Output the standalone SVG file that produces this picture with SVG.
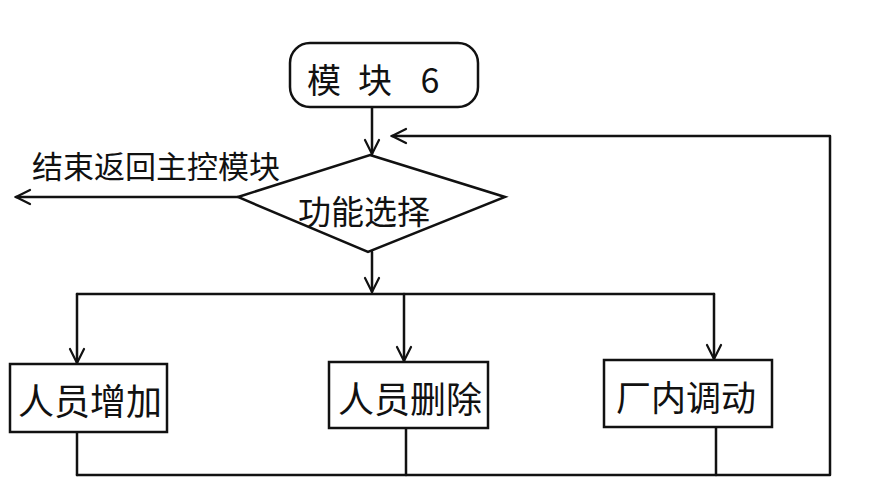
<svg xmlns="http://www.w3.org/2000/svg" width="880" height="480" viewBox="0 0 880 480">
<defs>
<style>
.s{fill:none;stroke:#111;stroke-width:2.5;stroke-linejoin:round;stroke-linecap:round}
.b{fill:#fff;stroke:#111;stroke-width:2.5}
.t{font-family:"Noto Sans CJK SC","Liberation Sans",sans-serif;fill:#111;text-anchor:middle;dominant-baseline:central}
</style>
<marker id="a" viewBox="0 0 20 20" refX="18" refY="10" markerWidth="20" markerHeight="20" markerUnits="userSpaceOnUse" orient="auto">
<polyline points="4,3 18,10 4,17" fill="none" stroke="#111" stroke-width="2.2" stroke-linecap="round"/>
</marker>
</defs>
<rect width="880" height="480" fill="#fff"/>
<g id="connectors">
<line class="s" x1="372" y1="107" x2="372" y2="154" marker-end="url(#a)"/>
<line class="s" x1="238" y1="197" x2="16" y2="197" marker-end="url(#a)"/>
<line class="s" x1="372" y1="252" x2="372" y2="292" marker-end="url(#a)"/>
<polyline class="s" points="77,294 714,294"/>
<line class="s" x1="77" y1="294" x2="77" y2="363" marker-end="url(#a)"/>
<line class="s" x1="404" y1="294" x2="404" y2="361" marker-end="url(#a)"/>
<line class="s" x1="714" y1="294" x2="714" y2="359" marker-end="url(#a)"/>
<line class="s" x1="77" y1="432" x2="77" y2="475"/>
<line class="s" x1="406" y1="428" x2="406" y2="475"/>
<line class="s" x1="716" y1="427" x2="716" y2="475"/>
<polyline class="s" points="77,475 830,475 830,136 392,136" marker-end="url(#a)"/>
<text class="t" x="156" y="164" font-size="31">结束返回主控模块</text>
</g>
<g id="start">
<rect class="b" x="290" y="43" width="188" height="64" rx="20"/>
<text class="t" y="78" font-size="34"><tspan x="324">模</tspan><tspan x="375">块</tspan><tspan x="430">6</tspan></text>
</g>
<g id="decision">
<polygon class="b" points="370,155 505,197 368,252 238,197"/>
<text class="t" x="364" y="210" font-size="33">功能选择</text>
</g>
<g id="add">
<rect class="b" x="10" y="364" width="157" height="68"/>
<text class="t" x="90" y="399" font-size="36">人员增加</text>
</g>
<g id="delete">
<rect class="b" x="329" y="362" width="159" height="66"/>
<text class="t" x="410" y="397" font-size="36">人员删除</text>
</g>
<g id="transfer">
<rect class="b" x="604" y="360" width="168" height="67"/>
<text class="t" x="686" y="395" font-size="35">厂内调动</text>
</g>
</svg>
